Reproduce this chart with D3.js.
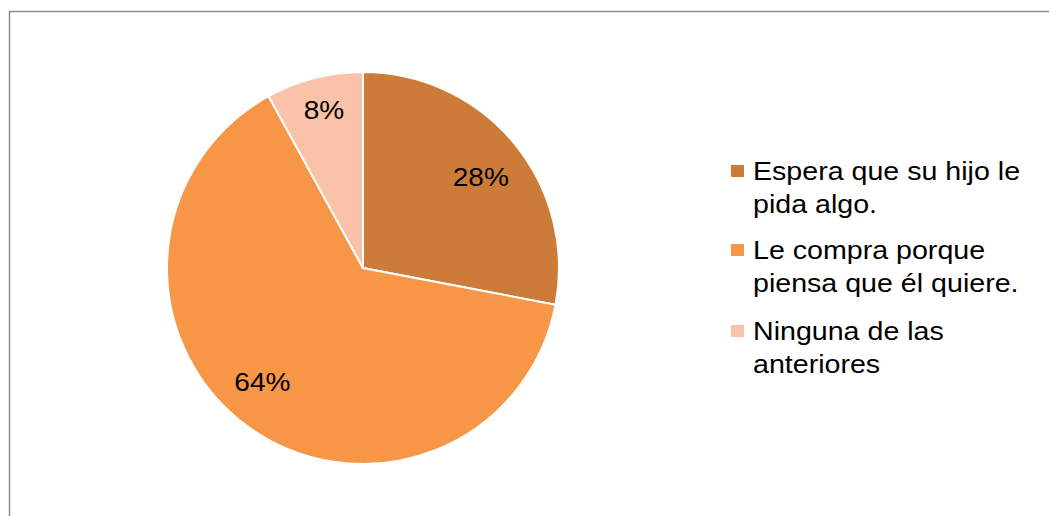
<!DOCTYPE html>
<html><head><meta charset="utf-8">
<script src="https://cdn.jsdelivr.net/npm/d3@7"></script>
<style>html,body{margin:0;padding:0;background:#fff;}</style>
</head><body>
<svg id="c" width="1049" height="516"></svg>
<script>
const categories = ["Espera que su hijo le pida algo.", "Le compra porque piensa que él quiere.", "Ninguna de las anteriores"];
const legendLines = [["Espera que su hijo le", "pida algo."], ["Le compra porque", "piensa que él quiere."], ["Ninguna de las", "anteriores"]];
const values = [28, 64, 8];
const colors = ["#CC7B38", "#F79646", "#FAC3A7"];

const FONT = "Liberation Sans, Arial, sans-serif";
const svg = d3.select("#c");
svg.append("rect").attr("x", 9.5).attr("y", 11.5).attr("width", 1060).attr("height", 540)
  .attr("fill", "#fff").attr("stroke", "#8c8c8c").attr("stroke-width", 1.5);

const cx = 363, cy = 268, r = 196;
const pie = d3.pie().sort(null).value(d => d)(values);
const arc = d3.arc().innerRadius(0).outerRadius(r);
const g = svg.append("g").attr("transform", `translate(${cx},${cy})`);
g.selectAll("path").data(pie).join("path")
  .attr("d", arc).attr("fill", (d, i) => colors[i])
  .attr("stroke", "#fff").attr("stroke-width", 2);

const labelArc = d3.arc().innerRadius(r * 0.76).outerRadius(r * 0.76);
const labelOffsets = [[3, 4], [-13, -6], [-2, -13]];
g.selectAll("g.lbl").data(pie).join("g").attr("class", "lbl")
  .attr("transform", (d, i) => {
    const c = labelArc.centroid(d);
    return `translate(${c[0] + labelOffsets[i][0]},${c[1] + labelOffsets[i][1]}) scale(1.08,1)`;
  })
  .append("text")
  .attr("text-anchor", "middle").attr("dominant-baseline", "central")
  .attr("font-family", FONT).attr("font-size", 26)
  .attr("fill", "#000").text(d => d.value + "%");

const leg = svg.append("g");
const itemY = [180, 259, 340];
legendLines.forEach((lines, i) => {
  leg.append("rect").attr("x", 731).attr("y", itemY[i] - 15).attr("width", 13).attr("height", 12).attr("fill", colors[i]);
  lines.forEach((l, j) => {
    leg.append("g").attr("transform", `translate(753,${itemY[i] + j * 33}) scale(1.1,1)`)
      .append("text").attr("font-family", FONT).attr("font-size", 26).attr("fill", "#000").text(l);
  });
});
</script>
</body></html>
